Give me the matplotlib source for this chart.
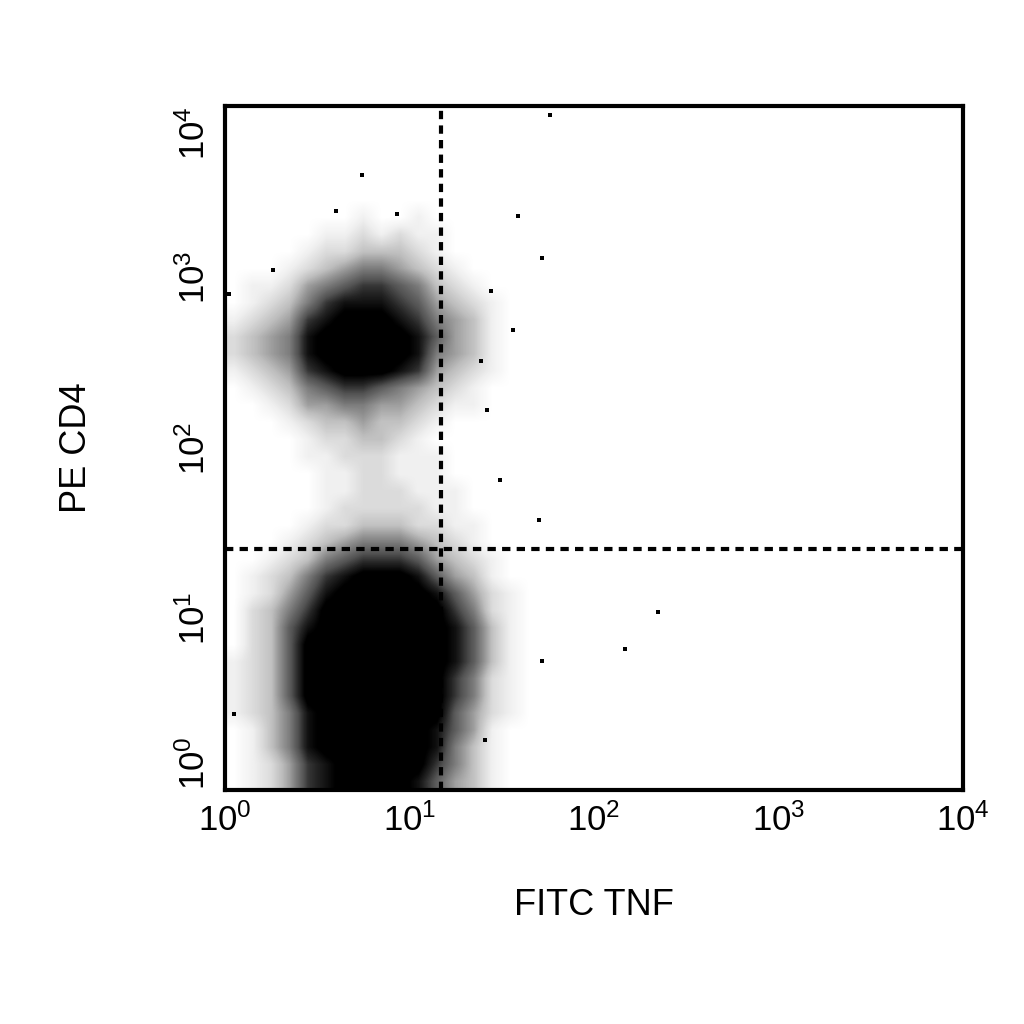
import numpy as np
import matplotlib
matplotlib.use("Agg")
import matplotlib.pyplot as plt

plt.rcParams["font.family"] = ["Liberation Sans", "DejaVu Sans"]
plt.rcParams["mathtext.fontset"] = "custom"
plt.rcParams["mathtext.rm"] = "Liberation Sans"
plt.rcParams["mathtext.it"] = "Liberation Sans"

# event density, 0.1-decade cells, x = 0.0..2.0, rows y = 4.0 (top) .. 0.0
density_rows = [
    "00000000000000000000",  # 3.9
    "00000000000000000000",
    "00000000000000000000",
    "00000000000000000000",
    "00000000000000000000",
    "00000000000000000000",  # 3.4
    "00000001001000000000",
    "00000112121100000000",
    "00001223332100000000",
    "00012345543210000000",  # 3.0
    "01124567765321000000",
    "01235788876432100000",
    "12347899987543100000",
    "23458999998643100000",
    "23458999998543100000",  # 2.5
    "12347899987432100000",
    "01235677654321000000",
    "00124455443211000000",
    "00012334332100000000",
    "00001223321000000000",  # 2.0
    "00001122211100000000",
    "00000112211100000000",
    "00000112221110000000",
    "00000122222110000000",
    "00001223332211000000",  # 1.5
    "00012345554321000000",
    "00123567776432100000",
    "01235789998643100000",
    "01246899999864210000",
    "02357999999975210000",  # 1.0
    "02368999999986310000",
    "02369999999986310000",
    "12369999999986310000",
    "12369999999975210000",
    "12369999999975210000",  # 0.5
    "12358999999964210000",
    "01358999999864100000",
    "01358999999853100000",
    "01247899999753100000",
    "01247899998643100000",  # 0.0
]

# isolated events (log10 FITC, log10 PE)
outlier_x = [1.76, 0.74, 0.93, 1.59, 1.72, 0.60, 0.02, 0.26, 1.44, 1.56, 1.49, 1.70,
             1.72, 2.17, 2.35, 1.41, 0.05, 1.39, 1.42]
outlier_y = [3.95, 3.60, 3.37, 3.36, 3.11, 3.39, 2.90, 3.04, 2.92, 2.69, 1.81, 1.58,
             0.75, 0.82, 1.04, 0.29, 0.44, 2.51, 2.22]

gate_x = 1.17
gate_y = 1.41
decades = [0, 1, 2, 3, 4]

grid = np.array([[int(c) for c in row] for row in density_rows], dtype=float)

fig = plt.figure(figsize=(10.24, 10.24), dpi=100)
ax = fig.add_axes([0.22, 0.229, 0.72, 0.667])
ax.imshow(grid, extent=[0, 2, 0, 4], origin="upper", cmap="Greys", vmin=0, vmax=8.5,
          interpolation="bilinear", aspect="auto", zorder=1)
ax.scatter(outlier_x, outlier_y, s=5, c="black", marker="s", linewidths=0, zorder=2)
ax.axvline(gate_x, color="black", lw=3, ls=(0, (2, 1.5)), zorder=3)
ax.axhline(gate_y, color="black", lw=3, ls=(0, (2, 1.5)), zorder=3)

ax.set_xlim(0, 4)
ax.set_ylim(0, 4)
ax.set_xticks(decades)
ax.set_yticks(decades)
ax.set_xticklabels([f"$10^{d}$" for d in decades], fontsize=25)
ylabels = ax.set_yticklabels([f"$10^{d}$" for d in decades], fontsize=25,
                             rotation=90, va="center")
ylabels[0].set_va("bottom")
ylabels[-1].set_va("top")
ax.tick_params(length=0, pad=10)
for s in ax.spines.values():
    s.set_linewidth(3)
ax.set_xlabel("FITC TNF", fontsize=26, labelpad=36)
ax.set_ylabel("PE CD4", fontsize=26, labelpad=60)
fig.savefig("out.png", dpi=100)
